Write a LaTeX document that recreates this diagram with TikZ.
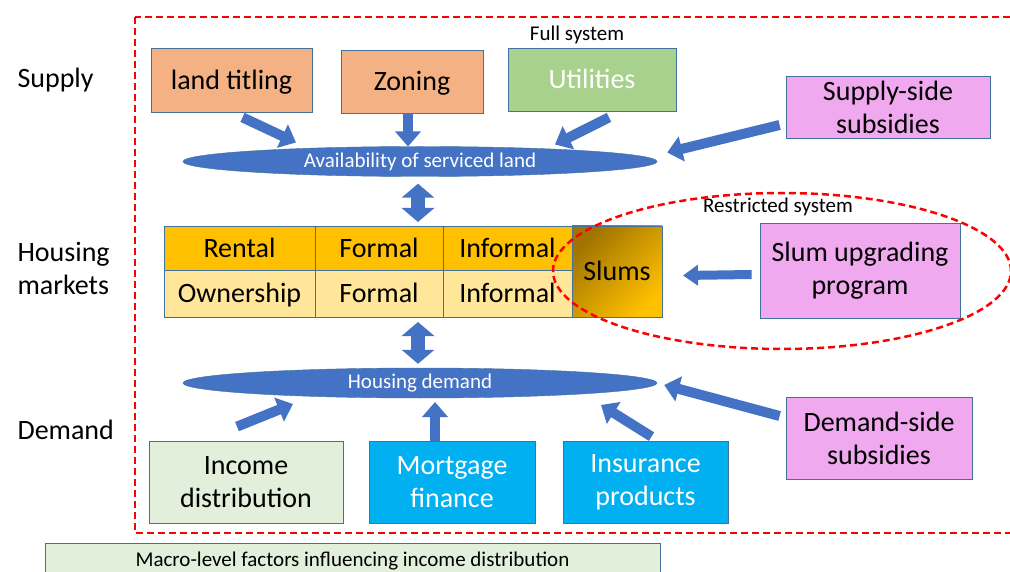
\documentclass[tikz,border=0pt]{standalone}
\usepackage{fontspec}
\setmainfont{Carlito}
\usepackage{xcolor}
\usepackage{tikz}
\usetikzlibrary{arrows}
\usetikzlibrary{arrows.meta}
\usetikzlibrary{positioning}
\usetikzlibrary{shapes.geometric}
\usetikzlibrary{calc}

\definecolor{rahmen}{HTML}{41719C}
\definecolor{orangehell}{HTML}{F4B183}
\definecolor{gruenhell}{HTML}{A9D18E}
\definecolor{rosa}{HTML}{F0A8EE}
\definecolor{blaupfeil}{HTML}{4472C4}
\definecolor{gold}{HTML}{FFC000}
\definecolor{goldhell}{HTML}{FFE699}
\definecolor{golddunkel}{HTML}{A07400}
\definecolor{mintgruen}{HTML}{E2EFDA}
\definecolor{hellblau}{HTML}{00B0F0}

\begin{document}
\begin{tikzpicture}
    [x=1pt, y=-1pt,
      % Stil für Kästen
      box/.style={rectangle, draw=rahmen, line width=0.8pt, inner sep=1pt, align=center, font=\fontsize{28}{33}\selectfont},
      one/.style={text height=22pt, text depth=3pt},
      sup/.style={box, one, fill=orangehell},
      gr/.style={box, one, fill=gruenhell, text=white},
      pol/.style={box, fill=rosa},
      dem/.style={box, fill=hellblau, text=white, minimum height=82pt},
      cell/.style={box, one, outer sep=0pt, minimum width=129pt, minimum height=44pt},
      % Stil für Ellipsen
      ell/.style={ellipse, fill=blaupfeil, draw=rahmen, text=white, inner sep=0pt, minimum width=474pt, minimum height=30pt, font=\fontsize{21}{24}\selectfont},
      lbl/.style={anchor=west, align=left, font=\fontsize{28}{33}\selectfont},
      small/.style={font=\fontsize{21}{24}\selectfont},
      % Stil für Pfeile
      pfeil/.style={draw=blaupfeil, line width=10pt, -{Triangle[length=15pt,width=25pt]}},
      pfeilk/.style={draw=blaupfeil, line width=9pt, -{Triangle[length=15pt,width=20pt]}},
      dpfeil/.style={draw=blaupfeil, line width=14pt, {Triangle[length=14pt,width=32pt]}-{Triangle[length=14pt,width=32pt]}},
      rot/.style={draw=red, line width=2.5pt, dash pattern=on 7pt off 4pt}]
    \useasboundingbox (0,0) rectangle (1010,572);

    % Rahmen
    \draw[rot] (135,17) rectangle (1030,533);

    % Knoten
    \node[lbl] (supply) at (14,80) {Supply};
    \node[lbl] (markets) at (14,268.5) {Housing\\markets};
    \node[lbl] (demandlbl) at (14,430) {Demand};

    \node[sup, minimum width=161pt, minimum height=64pt] (titling) at (231.5,80) {land titling};
    \node[sup, minimum width=142pt, minimum height=63pt] (zoning) at (412,81.5) {Zoning};
    \node[gr, minimum width=168pt, minimum height=63pt] (utilities) at (592,79.5) {Utilities};
    \node[small] (full) at (577,35) {Full system};
    \node[pol, minimum width=204pt, minimum height=62pt] (supsub) at (888,107) {Supply-side\\subsidies};

    \node[ell] (avail) at (420,161.5) {Availability of serviced land};

    \node[cell, fill=gold, minimum width=151pt] (rental) at (239.5,248) {Rental};
    \node[cell, fill=gold, right=0pt of rental, minimum width=128pt] (formalo) {Formal};
    \node[cell, fill=gold, right=0pt of formalo] (informalo) {Informal};
    \node[cell, fill=goldhell, below=0pt of rental, minimum width=151pt, minimum height=47pt] (owner) {Ownership};
    \node[cell, fill=goldhell, right=0pt of owner, minimum width=128pt, minimum height=47pt] (formalu) {Formal};
    \node[cell, fill=goldhell, right=0pt of formalu, minimum height=47pt] (informalu) {Informal};
    \node[box, one, outer sep=0pt, top color=golddunkel, bottom color=gold, shading angle=45, minimum width=90pt, minimum height=91pt] (slums) at (617,271.5) {Slums};

    \node[small] (restr) at (778,207) {Restricted system};
    \node[pol, minimum width=200pt, minimum height=95pt] (upgrade) at (860,270.5) {Slum upgrading\\program};
    \node[ellipse, rot, minimum width=458pt, minimum height=156pt] (restricted) at (782,271) {};

    \node[ell] (demand) at (420,383) {Housing demand};

    \node[box, fill=mintgruen, minimum width=194pt, minimum height=82pt] (income) at (246,482) {Income\\distribution};
    \node[dem, minimum width=166pt] (mortgage) at (452,482) {Mortgage\\finance};
    \node[dem, minimum width=165pt] (insurance) at (645.5,482) {Insurance\\products};
    \node[pol, minimum width=186pt, minimum height=82pt] (demsub) at (879,438) {Demand-side\\subsidies};

    \node[box, small, fill=mintgruen, minimum width=615pt, minimum height=36pt] (macro) at (352.5,561) {Macro-level factors influencing income distribution};

    % Kanten
    \draw[pfeil] ($(titling.south)+(11,5)$) -- ($(avail.center)+(-124,-19)$);
    \draw[pfeil] ($(zoning.south)+(-4,0)$) -- ($(avail.center)+(-12,-15)$);
    \draw[pfeil] ($(utilities.south)+(17,6)$) -- ($(avail.center)+(135,-17)$);
    \draw[pfeil] ($(supsub.west)+(-6,18)$) -- ($(avail.east)+(10,-9)$);
    \draw[dpfeil] ($(avail.south)+(-2,7)$) -- ($(formalo.north -| avail.south)+(-2,-4)$);
    \draw[dpfeil] ($(formalu.south -| demand.north)+(-2,5)$) -- ($(demand.north)+(-2,-4)$);
    \draw[pfeilk] ($(upgrade.west)+(-8,4)$) -- ($(slums.east)+(21,4)$);
    \draw[pfeil] ($(income.north)+(-9,-14)$) -- ($(demand.center)+(-127,21)$);
    \draw[pfeil] ($(mortgage.north)+(-17,0)$) -- ($(demand.center)+(15,19)$);
    \draw[pfeil] ($(insurance.north)+(6,-4)$) -- ($(demand.center)+(181,22)$);
    \draw[pfeil] ($(demsub.west)+(-6,-22)$) -- ($(demand.east)+(7,2)$);

  \end{tikzpicture}
\end{document}
